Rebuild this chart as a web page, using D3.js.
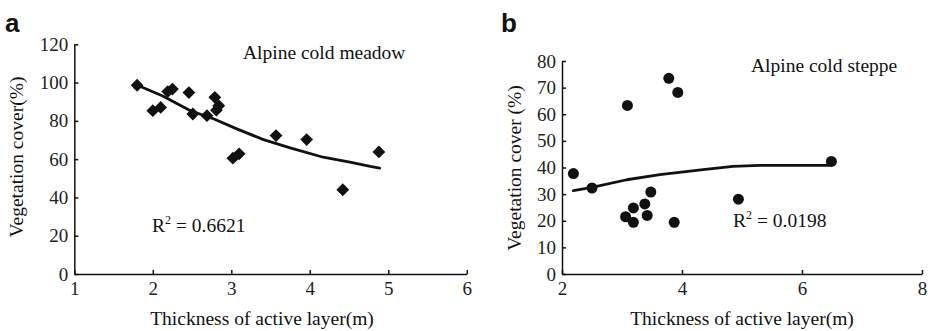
<!DOCTYPE html>
<html><head><meta charset="utf-8">
<script src="https://cdn.jsdelivr.net/npm/d3@7/dist/d3.min.js"></script>
<style>
body{margin:0;background:#fff;}
svg{display:block;}
</style></head>
<body>
<svg id="chart" width="931" height="331"></svg>
<script>
// Panel a: Alpine cold meadow
const meadowX = [1.80, 2.00, 2.10, 2.19, 2.25, 2.46, 2.51, 2.69, 2.79, 2.81, 2.84, 3.02, 3.10, 3.57, 3.96, 4.42, 4.88];
const meadowY = [98.6, 85.3, 87.0, 95.3, 96.6, 94.8, 83.6, 82.7, 92.3, 85.6, 87.9, 60.5, 62.8, 72.3, 70.2, 44.0, 63.8];
const meadowTrendX = [1.85, 2.12, 2.48, 2.78, 3.07, 3.41, 3.75, 4.17, 4.51, 4.77, 4.89];
const meadowTrendY = [97.8, 93.1, 85.3, 81.0, 75.8, 70.2, 65.9, 61.0, 58.4, 56.2, 55.3];
const meadowXTicks = [1, 2, 3, 4, 5, 6];
const meadowYTicks = [0, 20, 40, 60, 80, 100, 120];

// Panel b: Alpine cold steppe
const steppeX = [2.19, 2.50, 3.06, 3.09, 3.19, 3.19, 3.38, 3.42, 3.48, 3.78, 3.87, 3.93, 4.94, 6.49];
const steppeY = [37.7, 32.3, 21.5, 63.3, 24.8, 19.4, 26.3, 22.0, 30.8, 73.5, 19.4, 68.2, 28.1, 42.3];
const steppeTrendX = [2.19, 2.50, 3.08, 3.63, 4.35, 4.85, 5.29, 6.45];
const steppeTrendY = [31.3, 32.5, 35.4, 37.3, 39.2, 40.4, 40.8, 40.8];
const steppeXTicks = [2, 4, 6, 8];
const steppeYTicks = [0, 10, 20, 30, 40, 50, 60, 70, 80];

const SERIF = "'Liberation Serif','Times New Roman',serif";
const SANS = "'Liberation Sans',Arial,sans-serif";
const svg = d3.select("#chart");

function panel(opt) {
  const x = d3.scaleLinear().domain(opt.xDomain).range(opt.xRange);
  const y = d3.scaleLinear().domain(opt.yDomain).range(opt.yRange);
  const g = svg.append("g").style("font-family", SERIF).style("fill", "#111");

  const ax = g.append("g").attr("transform", `translate(0,${opt.yRange[0]})`)
    .call(d3.axisBottom(x).tickValues(opt.xTicks).tickSizeInner(-4).tickSizeOuter(0).tickPadding(8).tickFormat(d3.format("d")));
  const ay = g.append("g").attr("transform", `translate(${opt.xRange[0]},0)`)
    .call(d3.axisLeft(y).tickValues(opt.yTicks).tickSizeInner(-4).tickSizeOuter(0).tickPadding(6).tickFormat(d3.format("d")));
  [ax, ay].forEach(a => {
    a.attr("font-family", null).attr("font-size", null);
    a.selectAll("path,line").attr("stroke", "#111").attr("stroke-width", 1.5);
    a.selectAll("text").style("font-family", SERIF).style("font-size", "19px").attr("fill", "#222");
  });
  ax.selectAll("text").attr("dy", "0.71em");

  // trend line
  const trend = opt.trendX.map((v, i) => [v, opt.trendY[i]]);
  g.append("path").datum(trend)
    .attr("d", d3.line().x(d => x(d[0])).y(d => y(d[1])))
    .attr("fill", "none").attr("stroke", "#111").attr("stroke-width", 2.8)
    .attr("stroke-linejoin", "round").attr("stroke-linecap", "round");

  // points
  const pts = opt.px.map((v, i) => [v, opt.py[i]]);
  g.selectAll(".pt").data(pts).enter().append("path")
    .attr("transform", d => `translate(${x(d[0])},${y(d[1])}) rotate(${opt.rot})`)
    .attr("d", d3.symbol().type(opt.symbol).size(opt.symSize))
    .attr("fill", "#111");

  // annotations
  g.append("text").attr("x", opt.nameX).attr("y", opt.nameY).style("font-size", "19.5px").text(opt.name);
  const r = g.append("text").attr("x", opt.rX).attr("y", opt.rY).style("font-size", "19.5px");
  r.append("tspan").text("R");
  r.append("tspan").style("font-size", "12px").attr("dy", -8).text("2");
  r.append("tspan").attr("dy", 8).text(" = " + opt.r2);

  // axis titles
  g.append("text").attr("x", opt.xTitleX).attr("y", 325).attr("text-anchor", "middle")
    .style("font-size", "19.5px").text("Thickness of active layer(m)");
  g.append("text").attr("transform", `translate(${opt.yTitleX},${opt.yTitleY}) rotate(-90)`)
    .attr("text-anchor", "middle").style("font-size", "19.5px").text(opt.yTitle);

  // panel letter
  g.append("text").attr("x", opt.letterX).attr("y", 31.5)
    .style("font-family", SANS).style("font-weight", "bold")
    .style("font-size", "26px").text(opt.letter);
}

panel({
  xDomain: [1, 6], xRange: [74.3, 466.8], yDomain: [0, 120], yRange: [274, 44.3],
  xTicks: meadowXTicks, yTicks: meadowYTicks,
  trendX: meadowTrendX, trendY: meadowTrendY, px: meadowX, py: meadowY,
  symbol: d3.symbolSquare, symSize: 82, rot: 45,
  name: "Alpine cold meadow", nameX: 243, nameY: 58.5,
  r2: "0.6621", rX: 152, rY: 232,
  xTitleX: 262, yTitleX: 23, yTitleY: 157, yTitle: "Vegetation cover(%)",
  letter: "a", letterX: 5
});

panel({
  xDomain: [2, 8], xRange: [562, 922], yDomain: [0, 80], yRange: [274, 61],
  xTicks: steppeXTicks, yTicks: steppeYTicks,
  trendX: steppeTrendX, trendY: steppeTrendY, px: steppeX, py: steppeY,
  symbol: d3.symbolCircle, symSize: 95, rot: 0,
  name: "Alpine cold steppe", nameX: 751, nameY: 72,
  r2: "0.0198", rX: 733, rY: 227,
  xTitleX: 742, yTitleX: 521, yTitleY: 168, yTitle: "Vegetation cover (%)",
  letter: "b", letterX: 501
});
</script>
</body></html>
